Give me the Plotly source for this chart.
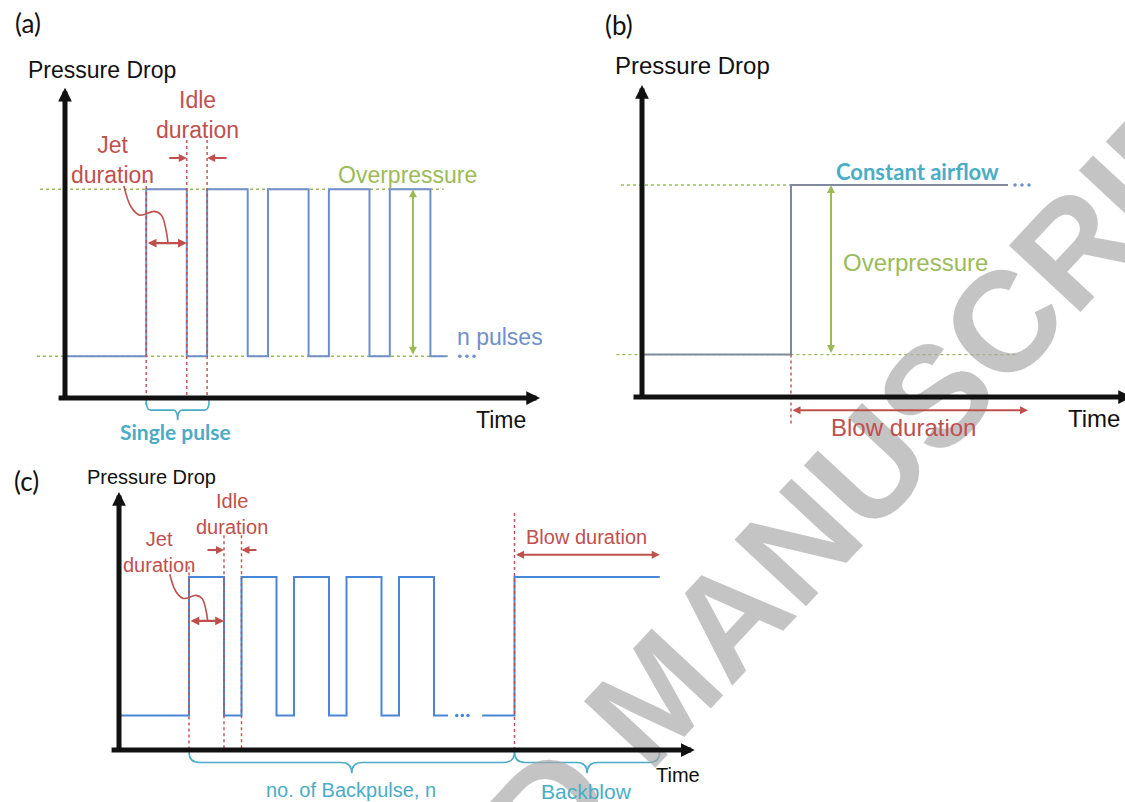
import plotly.graph_objects as go

W, H = 1125, 802

# ---------------- data (arbitrary time / pressure-drop units) ----------------
base_level = 1.0          # pressure drop before cleaning
peak_level = 5.0          # pressure drop during a jet

# (a) train of single pulses
a_pulse_start = [4, 7, 10, 13, 16]
a_jet_duration = 2
a_end = 18.8
a_ellipsis = [19.45, 19.8, 20.15]

# (b) constant airflow
b_step_time = 7.45
b_end = 18.3
b_ellipsis = [18.65, 19.0, 19.35]
b_blow_end = 19.3

# (c) backpulses followed by a backblow
c_pulse_start = [4, 7, 10, 13, 16]
c_jet_duration = 2
c_break = [18.8, 20.75]
c_ellipsis = [19.3, 19.62, 19.94]
c_blow_start = 22.6
c_blow_end = 30.9

# hand-drawn leader from the "Jet duration" label to its arrow
connector_t = [2.9, 3.25, 3.68, 4.4, 4.75, 4.97, 5.07]
connector_p = [5.08, 4.58, 4.38, 4.47, 4.38, 4.04, 3.72]

# ---------------- styling ----------------
RED = "#c0504d"
GREEN = "#9bbb59"
CYAN = "#4bacc6"
BLUE_A = "#6f8fcb"
GREY_B = "#808a9e"
BLUE_C = "#4a86d6"
INK = "#111111"
SANS = "Arial, Liberation Sans, sans-serif"
HUMAN = "Lato, Open Sans, sans-serif"

# pixel frame of each panel: origin of the drawn axes, px per unit, region
panels = {
    "a": dict(ax="", ox=65, oy=398, sx=20.3, sy=41.75, px=(0, 560), py=(0, 450)),
    "b": dict(ax="2", ox=642, oy=397, sx=20.0, sy=42.4, px=(580, 1125), py=(0, 450)),
    "c": dict(ax="3", ox=119, oy=750, sx=17.5, sy=34.6, px=(0, 720), py=(450, 802)),
}

fig = go.Figure()
layout_axes = {}
for key, p in panels.items():
    xr = [(p["px"][0] - p["ox"]) / p["sx"], (p["px"][1] - p["ox"]) / p["sx"]]
    yr = [(p["oy"] - p["py"][1]) / p["sy"], (p["oy"] - p["py"][0]) / p["sy"]]
    common = dict(visible=False, showgrid=False, zeroline=False, fixedrange=True)
    layout_axes["xaxis" + p["ax"]] = dict(
        domain=[p["px"][0] / W, p["px"][1] / W], range=xr,
        anchor="y" + p["ax"], **common)
    layout_axes["yaxis" + p["ax"]] = dict(
        domain=[1 - p["py"][1] / H, 1 - p["py"][0] / H], range=yr,
        anchor="x" + p["ax"], **common)


def refs(key):
    s = panels[key]["ax"]
    return "x" + s, "y" + s


def pulse_train(start_t, starts, jet, end_t, lo, hi):
    xs, ys = [start_t], [lo]
    for s in starts:
        xs += [s, s, s + jet, s + jet]
        ys += [lo, hi, hi, lo]
    xs.append(end_t)
    ys.append(lo)
    return xs, ys


def line(key, xs, ys, color, width, dash="solid", shape="linear"):
    xr, yr = refs(key)
    fig.add_trace(go.Scatter(x=xs, y=ys, xaxis=xr, yaxis=yr, mode="lines",
                             line=dict(color=color, width=width, dash=dash, shape=shape),
                             hoverinfo="skip", showlegend=False))


def dots(key, xs, y, color):
    xr, yr = refs(key)
    fig.add_trace(go.Scatter(x=xs, y=[y] * len(xs), xaxis=xr, yaxis=yr, mode="markers",
                             marker=dict(color=color, size=3.5),
                             hoverinfo="skip", showlegend=False))


annotations = []

# light diagonal stamp across the sheet (drawn first, so everything sits on top)
annotations.append(dict(
    xref="paper", yref="paper", x=655 / W, y=1 - 695 / H, text="ACCEPTED MANUSCRIPT",
    showarrow=False, textangle=-47, xanchor="center", yanchor="middle",
    font=dict(family=SANS, size=142, color="rgba(168,168,170,0.68)", weight="bold")))


def arrow(key, x0, y0, x1, y1, color, width, size, both=False):
    xr, yr = refs(key)
    annotations.append(dict(
        xref=xr, yref=yr, axref=xr, ayref=yr, x=x1, y=y1, ax=x0, ay=y0, text="",
        showarrow=True, arrowhead=2, arrowsize=size, arrowwidth=width, arrowcolor=color,
        arrowside="end+start" if both else "end", startarrowhead=2, startarrowsize=size,
        standoff=0, startstandoff=0))


def label(key, x, y, text, color, size, family=SANS, xanchor="center", weight="normal"):
    xr, yr = refs(key)
    annotations.append(dict(
        xref=xr, yref=yr, x=x, y=y, text=text, showarrow=False, xanchor=xanchor,
        yanchor="middle", align="center",
        font=dict(family=family, size=size, color=color, weight=weight)))


def brace(key, x0, x1, top, depth, r):
    xr, yr = refs(key)
    xm = (x0 + x1) / 2
    mid = top - depth / 2
    bot = top - depth
    path = (f"M {x0},{top} Q {x0},{mid} {x0 + r},{mid} L {xm - r},{mid} "
            f"Q {xm},{mid} {xm},{bot} Q {xm},{mid} {xm + r},{mid} "
            f"L {x1 - r},{mid} Q {x1},{mid} {x1},{top}")
    fig.add_shape(type="path", path=path, xref=xr, yref=yr,
                  line=dict(color=CYAN, width=1.6))


# ============================ panel (a) ============================
line("a", [-1.23, 18.65], [peak_level] * 2, GREEN, 1.4, "dot")
line("a", [-1.38, 18.9], [base_level] * 2, GREEN, 1.4, "dot")
xs, ys = pulse_train(0, a_pulse_start, a_jet_duration, a_end, base_level, peak_level)
line("a", xs, ys, BLUE_A, 2)
dots("a", a_ellipsis, base_level, BLUE_A)
first_end = a_pulse_start[0] + a_jet_duration
line("a", [a_pulse_start[0]] * 2, [5.22, -0.17], RED, 1.4, "dot")
line("a", [first_end] * 2, [6.18, -0.05], RED, 1.4, "dot")
line("a", [a_pulse_start[1]] * 2, [6.18, -0.05], RED, 1.4, "dot")
line("a", connector_t, connector_p, RED, 1.6, shape="spline")
brace("a", a_pulse_start[0], a_pulse_start[1] + 0.1, -0.05, 0.48, 0.22)

arrow("a", 0, -0.06, 0, 7.43, INK, 5, 0.55)
arrow("a", -0.39, 0, 23.4, 0, INK, 5, 0.55)
arrow("a", 5.06, 5.75, first_end, 5.75, RED, 2, 0.8)
arrow("a", 8.03, 5.75, a_pulse_start[1], 5.75, RED, 2, 0.8)
arrow("a", a_pulse_start[0], 3.71, first_end, 3.71, RED, 2.2, 0.8, both=True)
arrow("a", 17.14, base_level, 17.14, peak_level, GREEN, 2, 0.8, both=True)

label("a", -1.82, 8.98, "(a)", INK, 26, HUMAN)
label("a", -1.92, 7.86, "Pressure Drop", INK, 23, xanchor="left")
label("a", 6.55, 6.79, "Idle<br>duration", RED, 23)
label("a", 2.36, 5.69, "Jet<br>duration", RED, 23)
label("a", 16.85, 5.34, "Overpressure", GREEN, 23)
label("a", 21.43, 1.46, "n pulses", BLUE_A, 23)
label("a", 21.5, -0.53, "Time", INK, 23)
label("a", 5.42, -0.81, "Single pulse", CYAN, 21, HUMAN, weight="bold")

# ============================ panel (b) ============================
line("b", [-1.05, b_end], [peak_level] * 2, GREEN, 1.4, "dot")
line("b", [-1.28, 18.7], [base_level] * 2, GREEN, 1.4, "dot")
line("b", [0, b_step_time, b_step_time, b_end],
     [base_level, base_level, peak_level, peak_level], GREY_B, 2)
dots("b", b_ellipsis, peak_level, BLUE_A)
line("b", [b_step_time] * 2, [base_level, -0.66], RED, 1.4, "dot")

arrow("b", 0, -0.06, 0, 7.36, INK, 5, 0.55)
arrow("b", -0.5, 0, 24.5, 0, INK, 5, 0.55)
arrow("b", b_step_time, -0.31, b_blow_end, -0.31, RED, 2, 0.8, both=True)
arrow("b", 9.45, base_level, 9.45, peak_level, GREEN, 2, 0.8, both=True)

label("b", -1.15, 8.77, "(b)", INK, 26, HUMAN)
label("b", -1.45, 7.83, "Pressure Drop", INK, 24, xanchor="left")
label("b", 13.75, 5.31, "Constant airflow", CYAN, 22, HUMAN, weight="bold")
label("b", 13.65, 3.18, "Overpressure", GREEN, 24)
label("b", 13.05, -0.73, "Blow duration", RED, 24)
label("b", 22.6, -0.5, "Time", INK, 24)

# ============================ panel (c) ============================
xs, ys = pulse_train(0, c_pulse_start, c_jet_duration, c_break[0], base_level, peak_level)
xs += [None, c_break[1], c_blow_start, c_blow_start, c_blow_end]
ys += [None, base_level, base_level, peak_level, peak_level]
line("c", xs, ys, BLUE_C, 2)
dots("c", c_ellipsis, base_level, BLUE_C)
c_first_end = c_pulse_start[0] + c_jet_duration
line("c", [c_pulse_start[0]] * 2, [5.3, 0], RED, 1.4, "dot")
line("c", [c_first_end] * 2, [6.21, 0], RED, 1.4, "dot")
line("c", [c_pulse_start[1]] * 2, [6.21, 0], RED, 1.4, "dot")
line("c", [c_blow_start] * 2, [6.85, 0], RED, 1.4, "dot")
line("c", connector_t, connector_p, RED, 1.6, shape="spline")
brace("c", c_pulse_start[0], c_blow_start, -0.05, 0.62, 0.6)
brace("c", c_blow_start, c_blow_end, -0.05, 0.62, 0.6)

arrow("c", 0, -0.06, 0, 7.46, INK, 5, 0.55)
arrow("c", -0.51, 0, 32.9, 0, INK, 5, 0.55)
arrow("c", 4.97, 5.78, c_first_end, 5.78, RED, 2, 0.8)
arrow("c", 7.94, 5.78, c_pulse_start[1], 5.78, RED, 2, 0.8)
arrow("c", c_pulse_start[0], 3.73, c_first_end, 3.73, RED, 2.2, 0.8, both=True)
arrow("c", c_blow_start, 5.64, c_blow_end, 5.64, RED, 2, 0.8, both=True)

label("c", -5.26, 7.77, "(c)", INK, 26, HUMAN)
label("c", -1.94, 7.89, "Pressure Drop", INK, 20, xanchor="left")
label("c", 6.46, 6.81, "Idle<br>duration", RED, 20)
label("c", 2.29, 5.71, "Jet<br>duration", RED, 20)
label("c", 26.74, 6.16, "Blow duration", RED, 20)
label("c", 13.26, -1.16, "no. of Backpulse, n", CYAN, 20)
label("c", 26.74, -1.21, "Backblow", CYAN, 21)
label("c", 31.94, -0.72, "Time", INK, 20)

fig.update_layout(
    width=W, height=H, margin=dict(l=0, r=0, t=0, b=0),
    paper_bgcolor="white", plot_bgcolor="white", showlegend=False,
    annotations=annotations, **layout_axes)

fig.write_html("out.html", config={"displayModeBar": False})
